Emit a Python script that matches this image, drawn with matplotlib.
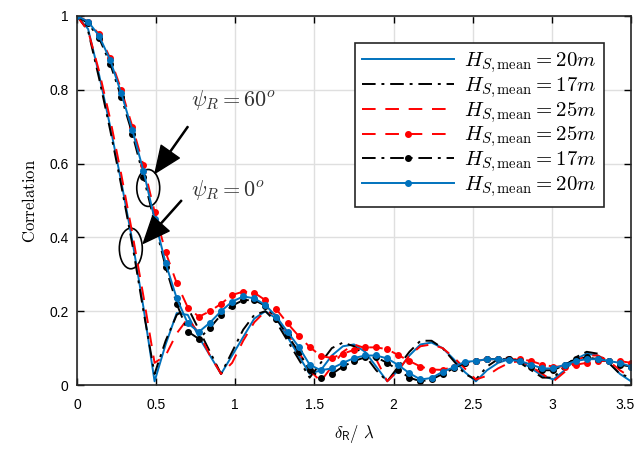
import numpy as np
import matplotlib
matplotlib.use('Agg')
import matplotlib.pyplot as plt
from matplotlib.patches import Ellipse
from matplotlib.transforms import ScaledTranslation

plt.rcParams['mathtext.fontset'] = 'cm'
plt.rcParams['font.family'] = ['Liberation Sans', 'DejaVu Sans']

# шаг по delta_R / lambda
x = np.arange(51) * 0.07

# psi_R = 0 (без маркеров)
blue0 = [1, 0.965, 0.84, 0.70, 0.55, 0.39, 0.21, 0.01, 0.11, 0.195, 0.19, 0.13, 0.08, 0.03, 0.08,
         0.13, 0.18, 0.2, 0.18, 0.13, 0.08, 0.03, 0.04, 0.08, 0.105, 0.11, 0.09, 0.05, 0.01, 0.04,
         0.08, 0.11, 0.115, 0.1, 0.07, 0.035, 0.01, 0.04, 0.06, 0.07, 0.065, 0.045, 0.025, 0.015, 0.04,
         0.07, 0.085, 0.08, 0.06, 0.03, 0.01]
black0 = [1, 0.96, 0.83, 0.69, 0.54, 0.38, 0.2, 0.03, 0.12, 0.19, 0.21, 0.15, 0.09, 0.03, 0.09,
          0.15, 0.19, 0.2, 0.17, 0.12, 0.07, 0.02, 0.06, 0.1, 0.115, 0.105, 0.08, 0.04, 0.01, 0.05,
          0.09, 0.12, 0.12, 0.1, 0.065, 0.03, 0.015, 0.05, 0.07, 0.075, 0.06, 0.04, 0.02, 0.02, 0.05,
          0.075, 0.09, 0.085, 0.06, 0.03, 0.02]
red0 = [1, 0.96, 0.85, 0.72, 0.57, 0.41, 0.24, 0.06, 0.08, 0.14, 0.18, 0.14, 0.08, 0.03, 0.06,
        0.12, 0.17, 0.2, 0.19, 0.14, 0.09, 0.04, 0.01, 0.05, 0.09, 0.11, 0.1, 0.07, 0.01, 0.04,
        0.08, 0.105, 0.11, 0.1, 0.075, 0.045, 0.015, 0.025, 0.045, 0.06, 0.065, 0.05, 0.03, 0.01, 0.035,
        0.065, 0.08, 0.08, 0.065, 0.04, 0.02]

# psi_R = 60 (с маркерами)
red60 = [1, 0.985, 0.95, 0.885, 0.80, 0.70, 0.595, 0.47, 0.36, 0.276, 0.21, 0.185, 0.2, 0.22, 0.244,
         0.253, 0.25, 0.23, 0.205, 0.167, 0.133, 0.103, 0.079, 0.073, 0.085, 0.095, 0.102, 0.102, 0.097, 0.081,
         0.065, 0.05, 0.042, 0.041, 0.05, 0.06, 0.065, 0.07, 0.07, 0.07, 0.07, 0.065, 0.055, 0.05, 0.05,
         0.055, 0.06, 0.065, 0.065, 0.065, 0.06]
black60 = [1, 0.98, 0.94, 0.87, 0.78, 0.68, 0.565, 0.44, 0.32, 0.22, 0.145, 0.125, 0.155, 0.19, 0.215,
           0.23, 0.23, 0.215, 0.18, 0.135, 0.09, 0.04, 0.02, 0.03, 0.05, 0.065, 0.075, 0.075, 0.06, 0.04,
           0.02, 0.01, 0.015, 0.03, 0.045, 0.06, 0.065, 0.07, 0.07, 0.07, 0.065, 0.05, 0.04, 0.04, 0.055,
           0.07, 0.075, 0.07, 0.065, 0.055, 0.05]
blue60 = [1, 0.985, 0.946, 0.88, 0.79, 0.69, 0.58, 0.45, 0.33, 0.235, 0.167, 0.144, 0.169, 0.2, 0.226,
          0.24, 0.235, 0.217, 0.185, 0.144, 0.104, 0.055, 0.04, 0.045, 0.06, 0.073, 0.08, 0.08, 0.072, 0.054,
          0.032, 0.015, 0.019, 0.036, 0.048, 0.063, 0.065, 0.07, 0.07, 0.068, 0.065, 0.055, 0.045, 0.045, 0.055,
          0.065, 0.07, 0.07, 0.065, 0.06, 0.05]

lbl = [r'$H_{S,\mathrm{mean}}=20m$', r'$H_{S,\mathrm{mean}}=17m$', r'$H_{S,\mathrm{mean}}=25m$',
       r'$H_{S,\mathrm{mean}}=25m$', r'$H_{S,\mathrm{mean}}=17m$', r'$H_{S,\mathrm{mean}}=20m$']
xtick_lbl = ['0', '0.5', '1', '1.5', '2', '2.5', '3', '3.5']
ytick_lbl = ['0', '0.2', '0.4', '0.6', '0.8', '1']

blue = '#0072BD'
red = '#FF0000'

fig = plt.figure(figsize=(6.39, 4.49), dpi=100)
ax = fig.add_axes([0.1205, 0.1425, 0.867, 0.8219])

ax.plot(x, blue0, color=blue, lw=1.4, label=lbl[0])
ax.plot(x, black0, color='black', lw=1.4, ls=(0, (7, 3, 1.5, 3)), label=lbl[1])
ax.plot(x, red0, color=red, lw=1.4, ls=(0, (7, 5)), label=lbl[2])
ax.plot(x, red60, color=red, lw=1.4, ls=(0, (7, 5)), marker='o', ms=4, label=lbl[3])
ax.plot(x, black60, color='black', lw=1.4, ls=(0, (7, 3, 1.5, 3)), marker='o', ms=4, label=lbl[4])
ax.plot(x, blue60, color=blue, lw=1.4, marker='o', ms=4, label=lbl[5])

ax.add_patch(Ellipse((0.45, 0.534), 0.145, 0.1, fill=False, ec='black', lw=1.2))
ax.add_patch(Ellipse((0.34, 0.37), 0.145, 0.11, fill=False, ec='black', lw=1.2))
ax.annotate('', xy=(0.493, 0.574), xytext=(0.70, 0.70),
            arrowprops=dict(facecolor='black', edgecolor='black', width=0.8, headwidth=16, headlength=19, shrink=0))
ax.annotate('', xy=(0.419, 0.384), xytext=(0.66, 0.50),
            arrowprops=dict(facecolor='black', edgecolor='black', width=0.8, headwidth=16, headlength=19, shrink=0))
ax.text(0.72, 0.772, r'$\psi_R = 60^o$', fontsize=16, va='center', ha='left', color='#333333')
ax.text(0.72, 0.528, r'$\psi_R = 0^o$', fontsize=16, va='center', ha='left', color='#333333')

ax.set_xlim(0, 3.5)
ax.set_ylim(0, 1)
ax.set_xticks(np.arange(0, 3.51, 0.5))
ax.set_xticklabels(xtick_lbl)
ax.set_yticks(np.arange(0, 1.01, 0.2))
ax.set_yticklabels(ytick_lbl)
ax.tick_params(direction='in', top=True, right=True, labelsize=10, length=5, width=1)
ax.tick_params(axis='x', pad=9)
ax.tick_params(axis='y', pad=6)
ax.grid(True, color='#DFDFDF', lw=1)
ax.set_axisbelow(True)
for s in ax.spines.values():
    s.set_linewidth(1.2)
    s.set_color('#262626')

# последняя подпись чуть левее, чтобы не обрезалась краем
last = ax.get_xticklabels()[-1]
last.set_transform(last.get_transform() + ScaledTranslation(-4 / 72, 0, fig.dpi_scale_trans))

ax.set_xlabel(r'$\delta_{\mathsf{R}}/\ \lambda$', fontsize=12, labelpad=8)
ax.set_ylabel(r'$\mathrm{Correlation}$', fontsize=12, labelpad=8)

leg = ax.legend(loc='upper right', bbox_to_anchor=(0.951, 0.928), fontsize=15, frameon=True,
                fancybox=False, edgecolor='#262626', framealpha=1, handlelength=4.4,
                labelspacing=0.0, borderpad=0.35, handletextpad=0.5, borderaxespad=0)
leg.get_frame().set_linewidth(1.2)

fig.savefig('out.png', dpi=100)
